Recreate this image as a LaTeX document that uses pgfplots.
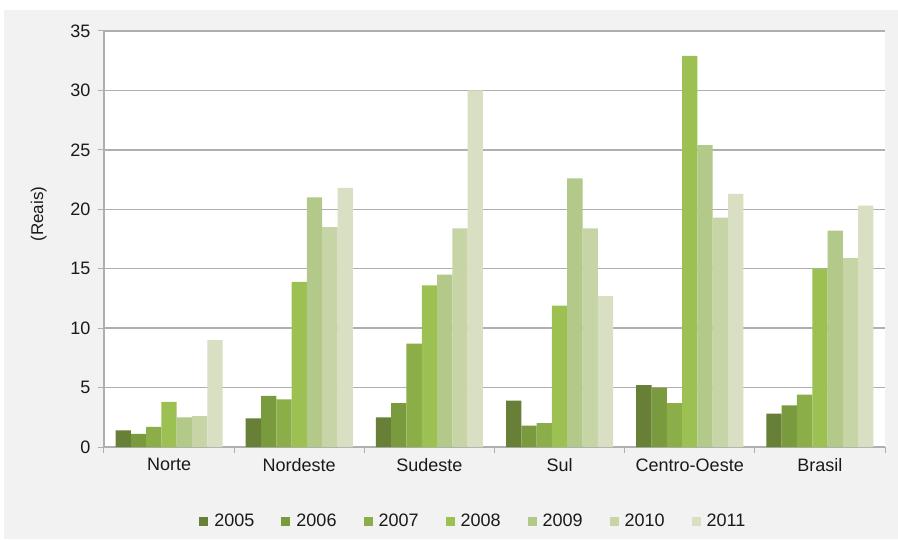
\documentclass[border=0pt]{standalone}
\usepackage{pgfplots}
\pgfplotsset{compat=1.18}
\usepackage{fontspec}
\setmainfont{Liberation Sans}
\definecolor{c05}{HTML}{687F38}
\definecolor{c06}{HTML}{7A9A3E}
\definecolor{c07}{HTML}{8BAE48}
\definecolor{c08}{HTML}{9CC152}
\definecolor{c09}{HTML}{B2C98A}
\definecolor{c10}{HTML}{C6D4A6}
\definecolor{c11}{HTML}{D8DFC3}
\definecolor{bgc}{HTML}{F2F2F2}
\definecolor{gridc}{HTML}{AFAFAF}
\definecolor{txt}{HTML}{1A1A1A}
\pgfplotsset{mybar/.style={fill=#1, draw=none,
  legend image code/.code={\fill[#1] (0pt,-4.5pt) rectangle (9pt,4.5pt);}}}
\begin{document}
\begin{tikzpicture}
\fill[white] (0pt,0pt) rectangle (898pt,539pt);
\fill[bgc] (4pt,0pt) rectangle (898pt,529pt);
\begin{axis}[
  at={(104pt,92pt)}, anchor=south west,
  scale only axis, width=781pt, height=416pt,
  axis background/.style={fill=white},
  ybar=0pt, bar width=15.3pt,
  xmin=-0.5, xmax=5.5, ymin=0, ymax=35,
  ytick={0,5,...,35},
  xtick={0,...,5},
  xticklabels={Norte,Nordeste,Sudeste,Sul,Centro-Oeste,Brasil},
  minor xtick={-0.5,0.5,...,5.5},
  major x tick style={draw=none},
  minor x tick style={draw=gridc, line width=1pt},
  minor tick length=6pt,
  y tick style={draw=gridc, line width=1pt},
  major tick length=6pt,
  tick align=outside,
  ymajorgrids, major grid style={draw=gridc, line width=1.4pt},
  axis x line*=bottom, axis y line*=left,
  axis line style={draw=gridc, line width=1.2pt},
  x axis line style={-}, y axis line style={-},
  tick label style={font=\fontsize{18}{21}\selectfont, text=txt},
  /pgf/number format/assume math mode=true,
  yticklabel style={xshift=-4pt},
  xticklabel style={yshift=-2pt},
  ylabel={(Reais)},
  ylabel style={font=\fontsize{17}{20}\selectfont, text=txt, at={(ticklabel cs:0.56)}, yshift=17pt},
  legend style={at={(0.473,-0.178)}, anchor=center, draw=none, fill=none,
    font=\fontsize{18}{21}\selectfont, text=txt,
    legend columns=7,
    /tikz/every odd column/.append style={column sep=4pt},
    /tikz/every even column/.append style={column sep=25pt}},
  legend cell align=left,
]
\addplot[mybar=c05] coordinates {(0,1.4) (1,2.4) (2,2.5) (3,3.9) (4,5.2) (5,2.8)};
\addplot[mybar=c06] coordinates {(0,1.1) (1,4.3) (2,3.7) (3,1.8) (4,5.0) (5,3.5)};
\addplot[mybar=c07] coordinates {(0,1.7) (1,4.0) (2,8.7) (3,2.0) (4,3.7) (5,4.4)};
\addplot[mybar=c08] coordinates {(0,3.8) (1,13.9) (2,13.6) (3,11.9) (4,32.9) (5,15.0)};
\addplot[mybar=c09] coordinates {(0,2.5) (1,21.0) (2,14.5) (3,22.6) (4,25.4) (5,18.2)};
\addplot[mybar=c10] coordinates {(0,2.6) (1,18.5) (2,18.4) (3,18.4) (4,19.3) (5,15.9)};
\addplot[mybar=c11] coordinates {(0,9.0) (1,21.8) (2,30.0) (3,12.7) (4,21.3) (5,20.3)};
\legend{2005,2006,2007,2008,2009,2010,2011}
\end{axis}
\end{tikzpicture}
\end{document}
